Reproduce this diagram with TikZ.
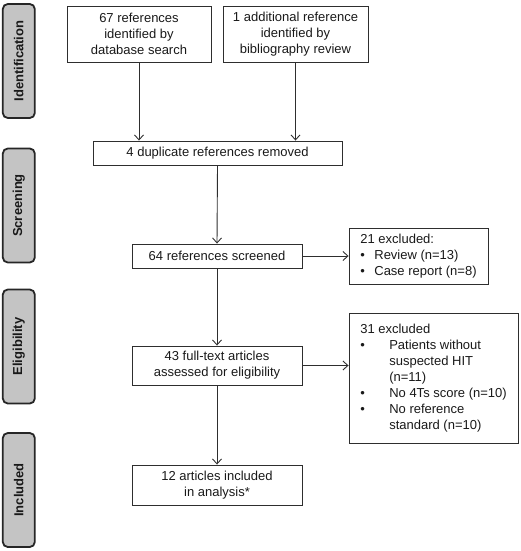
\documentclass[tikz,border=0pt]{standalone}
\usepackage{fontspec}
\setmainfont{Liberation Sans}
\usetikzlibrary{arrows.meta}
\definecolor{linec}{HTML}{2E2E2E}
\definecolor{sidefill}{HTML}{C4C4C4}
\tikzset{
  flowbox/.style={draw=linec, line width=0.9pt, inner sep=0pt, align=center,
    font=\fontsize{13}{16}\selectfont, text=black!90},
  sidelabel/.style={draw=black!85, fill=sidefill, line width=1.8pt, rounded corners=5pt,
    minimum width=32pt, minimum height=114pt, inner sep=0pt},
  sidetext/.style={rotate=90, font=\fontsize{13}{16}\selectfont\bfseries, text=black!90},
  flowarrow/.style={draw=linec, line width=0.9pt, -{Straight Barb[length=5pt,width=9pt,line width=0.9pt]}}
}
\begin{document}
\begin{tikzpicture}[x=1pt,y=-1pt]
\useasboundingbox (0,0) rectangle (520,551);
% side labels
\node[sidelabel] (s1) at (18.8,61) {};
\node[sidetext] (t1) at (s1.center) {Identification};
\node[sidelabel] (s2) at (18.8,205.5) {};
\node[sidetext] (t2) at (s2.center) {Screening};
\node[sidelabel] (s3) at (18.8,346.5) {};
\node[sidetext] (t3) at (s3.center) {Eligibility};
\node[sidelabel] (s4) at (18.8,490) {};
\node[sidetext] (t4) at (s4.center) {Included};
% boxes
\node[flowbox, minimum width=144pt, minimum height=56pt] (A) at (139,34)
  {67 references\\identified by\\database search};
\node[flowbox, minimum width=145pt, minimum height=56pt] (B) at (295.5,34)
  {1 additional reference\\identified by\\bibliography review};
\node[flowbox, minimum width=249pt, minimum height=24pt] (C) at (217.5,153)
  {4 duplicate references removed};
\node[flowbox, minimum width=170pt, minimum height=24pt] (D) at (217,256)
  {64 references screened};
\node[flowbox, minimum width=139pt, minimum height=56pt] (E) at (418.5,256)
  {\begin{tabular}{@{}p{14pt}@{}l@{}}
   \multicolumn{2}{@{}l@{}}{21 excluded:}\\
   \textbullet & Review (n=13)\\
   \textbullet & Case report (n=8)
   \end{tabular}};
\node[flowbox, minimum width=170pt, minimum height=39pt] (F) at (217,365.5)
  {43 full-text articles\\assessed for eligibility};
\node[flowbox, minimum width=169pt, minimum height=130pt] (G) at (433.5,378)
  {\begin{tabular}{@{}p{29pt}@{}l@{}}
   \multicolumn{2}{@{}l@{}}{31 excluded}\\
   \textbullet & Patients without\\
    & suspected HIT\\
    & (n=11)\\
   \textbullet & No 4Ts score (n=10)\\
   \textbullet & No reference\\
    & standard (n=10)
   \end{tabular}};
\node[flowbox, minimum width=170pt, minimum height=40pt] (H) at (217,485)
  {12 articles included\\in analysis*};
% connectors
\draw[flowarrow] (A.south) -- (A.south |- C.north);
\draw[flowarrow] (B.south) -- (B.south |- C.north);
\draw[flowarrow] (C.south) -- (D.north);
\draw[flowarrow] (D.south) -- (F.north);
\draw[flowarrow] (F.south) -- (H.north);
\draw[flowarrow] (D.east) -- (E.west);
\draw[flowarrow] (F.east) -- (F.east -| G.west);
\end{tikzpicture}
\end{document}
